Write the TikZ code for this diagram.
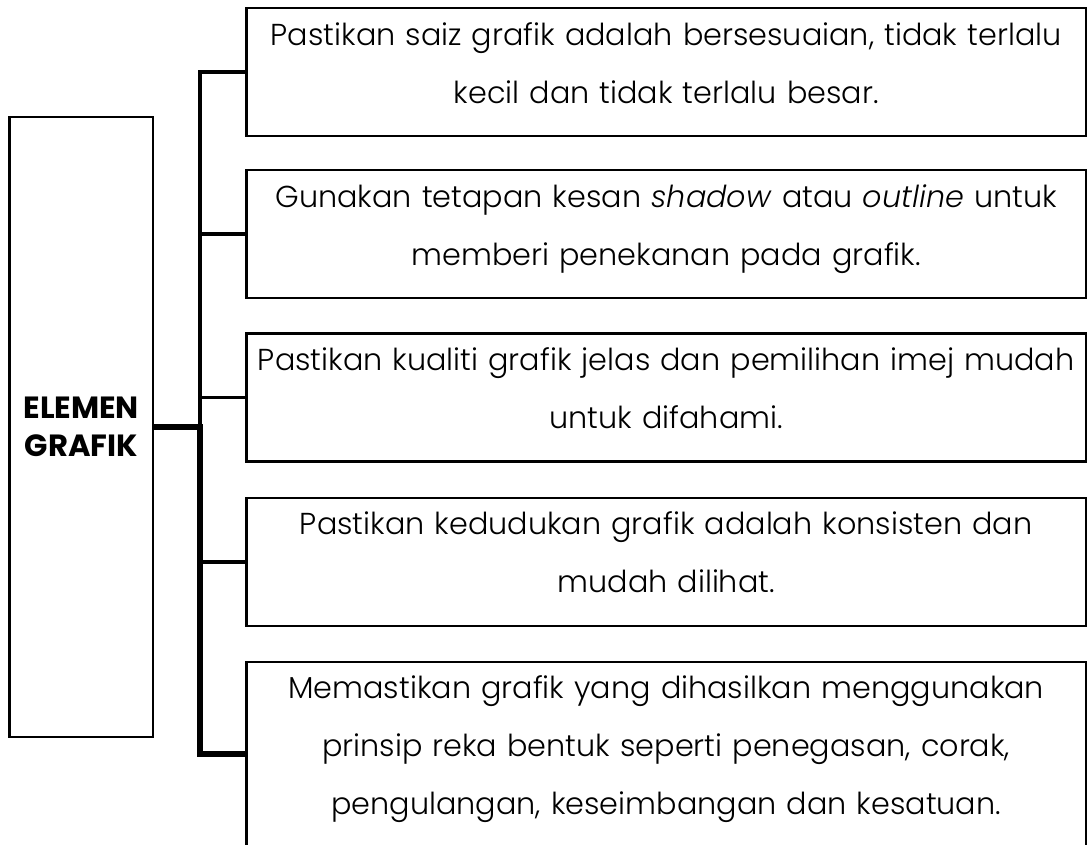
\documentclass[tikz,border=0pt]{standalone}
\usepackage{fontspec}
\setmainfont{Poppins}
\newfontfamily\lightfont{Poppins}[UprightFont={* Light},ItalicFont={* Light Italic}]
\begin{document}
\begin{tikzpicture}[x=0.75pt,y=-0.75pt,
  box/.style={draw=black,line width=2pt,minimum width=629.8pt,minimum height=96pt,inner sep=0pt},
  txt/.style={anchor=base,align=center,text width=628pt,inner sep=0pt,font=\lightfont\fontsize{22.7}{43.8}\selectfont},
  thinline/.style={line width=2.5pt,line join=miter},
  thickline/.style={line width=4pt,line join=miter}]
\useasboundingbox (0,0) rectangle (1088,844);
\clip (0,0) rectangle (1088,844);
\fill[white] (0,0) rectangle (1088,844);
\node[box,minimum width=107.6pt,minimum height=465pt,align=center,font=\fontsize{23}{28.5}\selectfont\bfseries] (main) at (81.25,427) {ELEMEN\\GRAFIK};
\node[box] (b1) at (666.2,72) {};
\node[box] (b2) at (666.2,234) {};
\node[box] (b3) at (666.2,397.5) {};
\node[box] (b4) at (666.2,562) {};
\node[box,minimum height=138pt] (b5) at (666.2,754) {};
\node[txt] (t1) at (666.2,45.5) {Pastikan saiz grafik adalah bersesuaian, tidak terlalu\\kecil dan tidak terlalu besar.};
\node[txt] (t2) at (666.2,207) {Gunakan tetapan kesan \textit{shadow} atau \textit{outline} untuk\\memberi penekanan pada grafik.};
\node[txt] (t3) at (666.2,370) {Pastikan kualiti grafik jelas dan pemilihan imej mudah\\untuk difahami.};
\node[txt] (t4) at (666.2,534) {Pastikan kedudukan grafik adalah konsisten dan\\mudah dilihat.};
\node[txt] (t5) at (666.2,698) {Memastikan grafik yang dihasilkan menggunakan\\prinsip reka bentuk seperti penegasan, corak,\\pengulangan, keseimbangan dan kesatuan.};
\coordinate (j) at (200,427);
\draw[thinline] (b1.west) -| (j);
\draw[thinline] (b2.west) -- (b2.west -| j);
\draw[thinline] (b3.west) -- (b3.west -| j);
\draw[thinline] (b4.west) -- (b4.west -| j);
\draw[thickline] (main.east) -- (j) |- (b5.west);
\end{tikzpicture}
\end{document}
